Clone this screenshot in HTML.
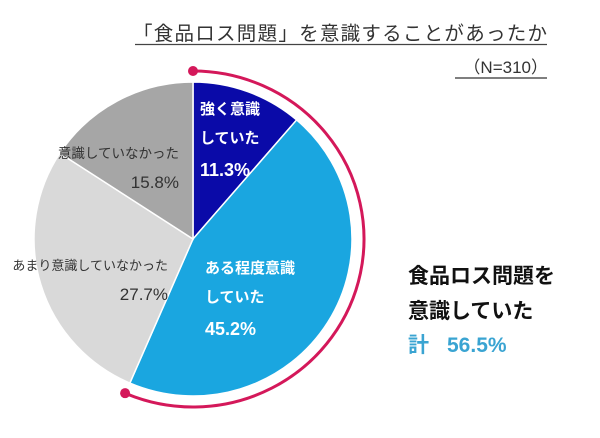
<!DOCTYPE html>
<html><head><meta charset="utf-8"><style>
body{margin:0;background:#fff;width:600px;height:438px;overflow:hidden;font-family:"Liberation Sans","Noto Sans CJK JP",sans-serif}
svg{display:block}
</style></head><body>
<svg width="600" height="438">
<text x="133" y="40" font-size="19.5" fill="#333" textLength="414">「食品ロス問題」を意識することがあったか</text>
<line x1="135" y1="44.5" x2="547" y2="44.5" stroke="#444" stroke-width="1.3"/>
<text x="548" y="73" font-size="17" fill="#333" text-anchor="end">（N=310）</text>
<line x1="455" y1="78" x2="547" y2="78" stroke="#333" stroke-width="1.3"/>
<g id="pie"></g>
<g font-weight="bold" font-size="15" fill="#fff">
<text x="200" y="114">強く意識</text>
<text x="200" y="143">していた</text>
<text x="200" y="176" font-size="18">11.3%</text>
<text x="205" y="273">ある程度意識</text>
<text x="205" y="302">していた</text>
<text x="205" y="335" font-size="18">45.2%</text>
</g>
<g font-size="13.5" fill="#333" text-anchor="end">
<text x="179" y="158">意識していなかった</text>
<text x="179" y="188" font-size="17">15.8%</text>
<text x="168" y="270" font-size="13">あまり意識していなかった</text>
<text x="168" y="300" font-size="17">27.7%</text>
</g>
<g font-weight="bold" font-size="21">
<text x="408" y="283" fill="#111">食品ロス問題を</text>
<text x="408" y="318" fill="#111">意識していた</text>
<text x="408" y="352" fill="#3aa4d2">計<tspan x="447">56.5%</tspan></text>
</g>
</svg>
<script>
const categories=["強く意識していた","ある程度意識していた","あまり意識していなかった","意識していなかった"];
const values=[11.3,45.2,27.7,15.8];
const colors=["#0a0aa8","#1aa6e0","#d9d9d9","#a6a6a6"];
const highlightTotal=56.5;
const cx=193,cy=239,rx=159,ry=157;
const ns="http://www.w3.org/2000/svg";
const g=document.getElementById('pie');
function pt(a,sx,sy){return [cx+sx*Math.sin(a),cy-sy*Math.cos(a)];}
const total=values.reduce((a,b)=>a+b,0);
let acc=0;
values.forEach((v,i)=>{
  const a0=acc/total*2*Math.PI;acc+=v;const a1=acc/total*2*Math.PI;
  const p0=pt(a0,rx,ry),p1=pt(a1,rx,ry);
  const p=document.createElementNS(ns,'path');
  p.setAttribute('d',`M${cx},${cy}L${p0[0]},${p0[1]}A${rx},${ry} 0 ${a1-a0>Math.PI?1:0} 1 ${p1[0]},${p1[1]}Z`);
  p.setAttribute('fill',colors[i]);p.setAttribute('stroke','#fff');p.setAttribute('stroke-width','1.5');
  
  
  g.appendChild(p);
});
const arx=171,ary=168,ae=highlightTotal/100*2*Math.PI;
const q0=pt(0,arx,ary),q1=pt(ae,arx,ary);
const arc=document.createElementNS(ns,'path');
arc.setAttribute('d',`M${q0[0]},${q0[1]}A${arx},${ary} 0 ${ae>Math.PI?1:0} 1 ${q1[0]},${q1[1]}`);
arc.setAttribute('fill','none');arc.setAttribute('stroke','#d4185a');arc.setAttribute('stroke-width','3');


g.appendChild(arc);
[q0,q1].forEach((q,i)=>{
  const c=document.createElementNS(ns,'circle');
  c.setAttribute('cx',q[0]);c.setAttribute('cy',q[1]);c.setAttribute('r','5');c.setAttribute('fill','#d4185a');
  
  
  g.appendChild(c);
});
</script>
</body></html>
